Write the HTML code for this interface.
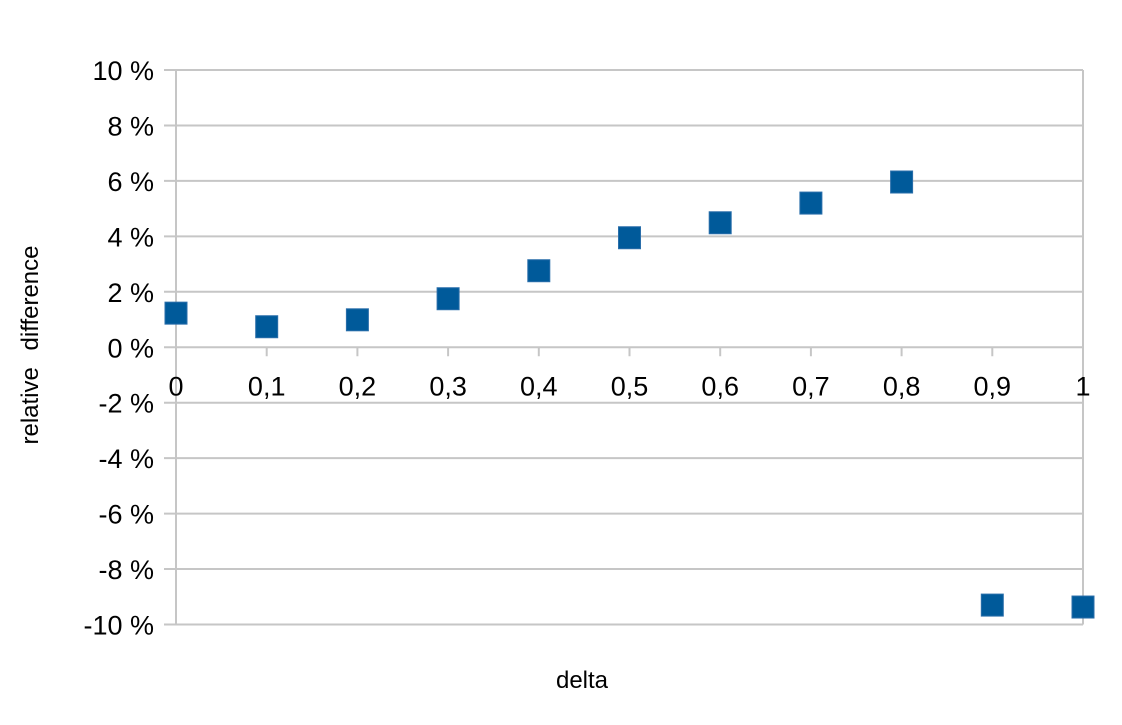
<!DOCTYPE html>
<html><head><meta charset="utf-8"><style>
html,body{margin:0;padding:0;background:#fff;}
svg text{font-family:"Liberation Sans",sans-serif;fill:#000;}
</style></head><body>
<svg id="chart" width="1122" height="720" xmlns="http://www.w3.org/2000/svg">
<g id="grid"></g>
<g id="yticks"></g>
<g id="xticks"></g>
<g id="marks"></g>
<text x="582" y="688" font-size="24" text-anchor="middle">delta</text>
<text transform="translate(38,345) rotate(-90)" font-size="24" text-anchor="middle" word-spacing="10">relative difference</text>
</svg>
<script>
const xValues = [0, 0.1, 0.2, 0.3, 0.4, 0.5, 0.6, 0.7, 0.8, 0.9, 1];
const yValues = [1.23, 0.74, 0.99, 1.75, 2.76, 3.95, 4.49, 5.2, 5.96, -9.3, -9.37];
const yTicks = [10, 8, 6, 4, 2, 0, -2, -4, -6, -8, -10];
const xTicks = [0, 0.1, 0.2, 0.3, 0.4, 0.5, 0.6, 0.7, 0.8, 0.9, 1];

const X0 = 176, X1 = 1083, YT = 70, YB = 624.5;
const sx = v => X0 + (v - 0) / (1 - 0) * (X1 - X0);
const sy = v => YT + (10 - v) / 20 * (YB - YT);
const NS = 'http://www.w3.org/2000/svg';
function mk(tag, attrs, parent) {
  const e = document.createElementNS(NS, tag);
  for (const k in attrs) e.setAttribute(k, attrs[k]);
  parent.appendChild(e);
  return e;
}
const grid = document.getElementById('grid');
const yg = document.getElementById('yticks');
const xg = document.getElementById('xticks');
const marks = document.getElementById('marks');

yTicks.forEach(t => {
  const y = sy(t);
  const l = mk('line', {x1: 164, x2: X1, y1: y, y2: y, stroke: '#c6c6c6', 'stroke-width': 2}, grid);
  
  
  const tx = mk('text', {x: 154, y: y + 10, 'font-size': 27, 'text-anchor': 'end'}, yg);
  tx.textContent = t + ' %';
  
  
});
const ax = mk('line', {x1: X0, x2: X0, y1: YT, y2: YB, stroke: '#c6c6c6', 'stroke-width': 2}, grid);


const rb = mk('line', {x1: X1, x2: X1, y1: YT, y2: YB, stroke: '#c6c6c6', 'stroke-width': 2}, grid);



xTicks.forEach(t => {
  const x = sx(t);
  const tk = mk('line', {x1: x, x2: x, y1: sy(0), y2: sy(0) + 9, stroke: '#c6c6c6', 'stroke-width': 2}, xg);
  
  
  const tx = mk('text', {x: x, y: sy(0) + 48, 'font-size': 27, 'text-anchor': 'middle'}, xg);
  tx.textContent = String(t).replace('.', ',');
  
  
});

xValues.forEach((v, i) => {
  const cx = sx(v), cy = sy(yValues[i]);
  const r = mk('rect', {x: cx - 11, y: cy - 11, width: 22, height: 22, fill: '#005a9a', stroke: '#2a6eaa', 'stroke-width': 1}, marks);
  
  
});
</script>
</body></html>
